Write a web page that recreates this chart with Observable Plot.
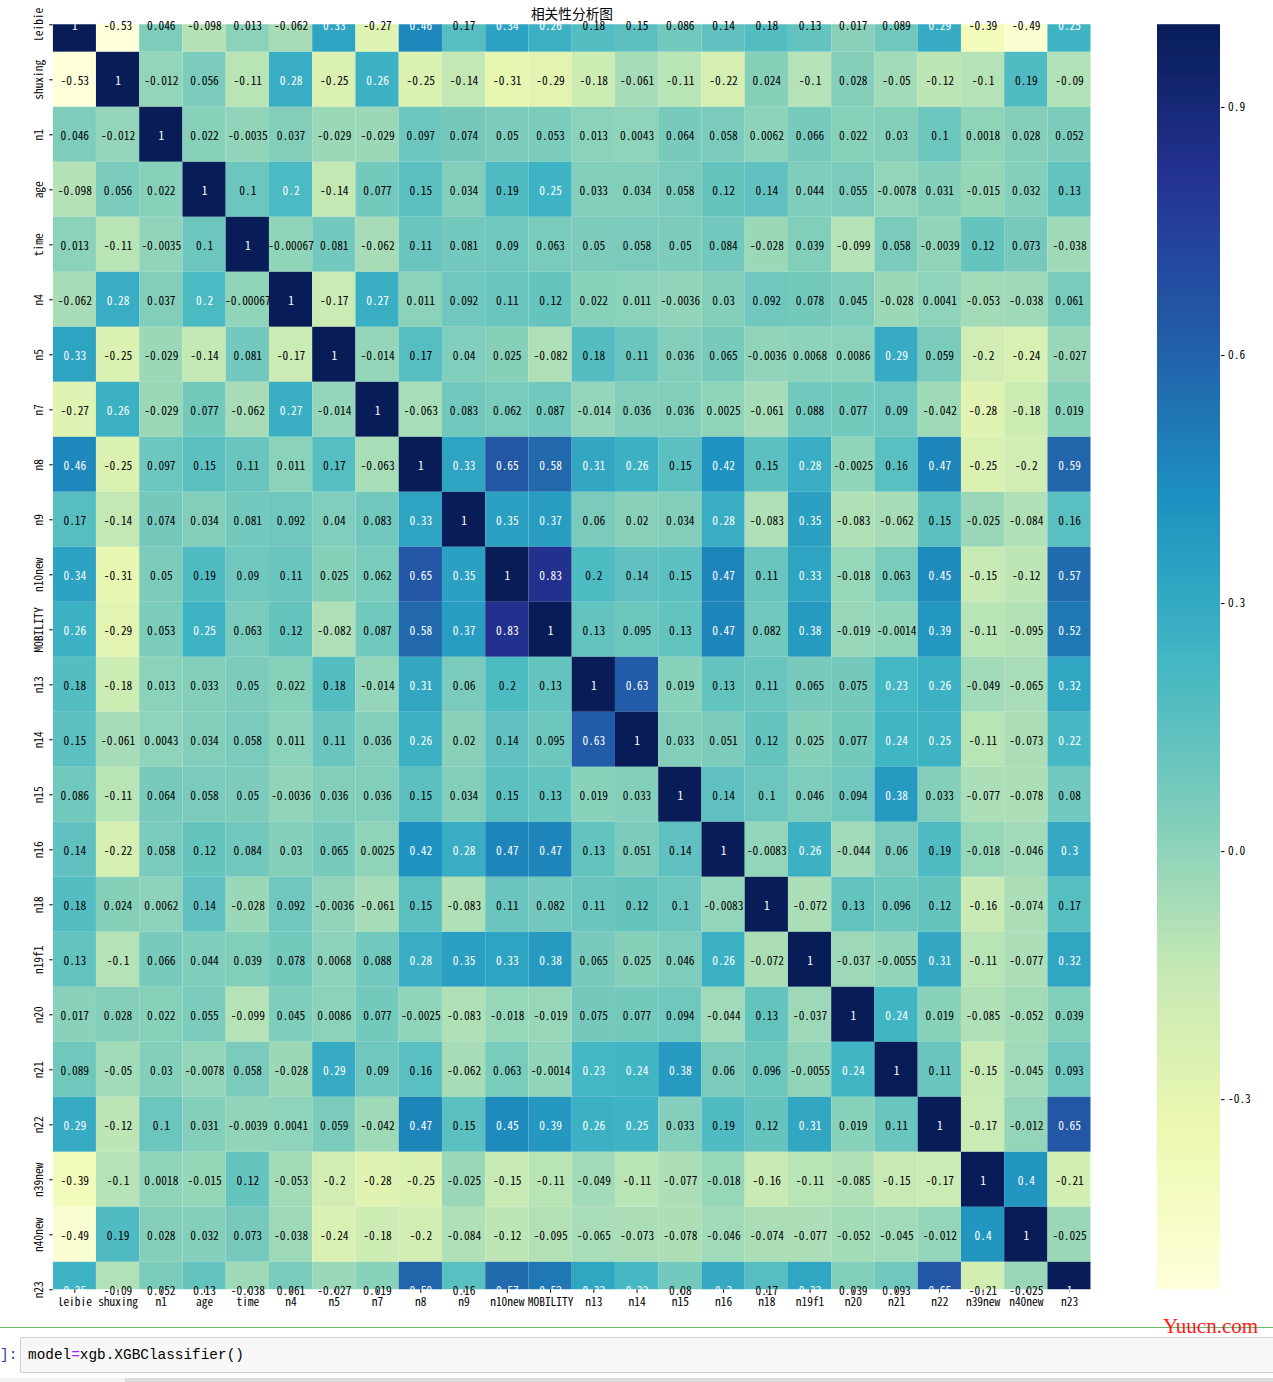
<!DOCTYPE html>
<html><head><meta charset="utf-8">
<script src="https://cdn.jsdelivr.net/npm/d3@7"></script>
<script src="https://cdn.jsdelivr.net/npm/@observablehq/plot@0.6"></script>
<style>
body{margin:0;background:#fff;}
#wrap{position:relative;width:1273px;height:1382px;overflow:hidden;background:#fff;}
#wrap svg{position:absolute;top:0;}
#title{position:absolute;left:0;width:1144px;top:7px;text-align:center;font-family:"Noto Sans CJK SC",sans-serif;font-size:13.7px;line-height:1;color:#000;}
#green{position:absolute;left:0;top:1327px;width:1273px;height:1px;background:#66bb6a;}
#prompt{position:absolute;left:0;top:1337px;height:36px;line-height:36px;font-family:"Liberation Mono",monospace;font-size:14.4px;color:#303F9F;}
#code{position:absolute;left:20px;top:1337px;width:1270px;height:34px;background:#f7f7f7;border:1px solid #cfcfcf;border-radius:2px;}
#codetext{position:absolute;left:28px;top:1337px;height:36px;line-height:36px;font-family:"Liberation Mono",monospace;font-size:14.4px;color:#000;}
#codetext .op{color:#aa22ff;}
#wm{position:absolute;left:1163px;top:1316px;font-family:"Liberation Serif",serif;font-size:21px;color:#ff1a1a;line-height:1;}
#bar1{position:absolute;left:0;top:1378px;width:125px;height:4px;background:#f2f2f2;}
#bar2{position:absolute;left:125px;top:1378px;width:1148px;height:4px;background:#dcdcdc;}
</style></head><body>
<div id="wrap">
<div id="title">相关性分析图</div>
<div id="green"></div>
<div id="prompt">]:</div>
<div id="code"></div>
<div id="codetext">model<span class="op">=</span>xgb.XGBClassifier()</div>
<div id="wm">Yuucn.com</div>
<div id="bar1"></div><div id="bar2"></div>
</div>
<script>
// ---- data ----
const names = ["leibie","shuxing","n1","age","time","n4","n5","n7","n8","n9","n10new","MOBILITY","n13","n14","n15","n16","n18","n19f1","n20","n21","n22","n39new","n40new","n23"];
const r_leibie  = [1,-0.53,0.046,-0.098,0.013,-0.062,0.33,-0.27,0.46,0.17,0.34,0.26,0.18,0.15,0.086,0.14,0.18,0.13,0.017,0.089,0.29,-0.39,-0.49,0.25];
const r_shuxing = [-0.53,1,-0.012,0.056,-0.11,0.28,-0.25,0.26,-0.25,-0.14,-0.31,-0.29,-0.18,-0.061,-0.11,-0.22,0.024,-0.1,0.028,-0.05,-0.12,-0.1,0.19,-0.09];
const r_n1      = [0.046,-0.012,1,0.022,-0.0035,0.037,-0.029,-0.029,0.097,0.074,0.05,0.053,0.013,0.0043,0.064,0.058,0.0062,0.066,0.022,0.03,0.1,0.0018,0.028,0.052];
const r_age     = [-0.098,0.056,0.022,1,0.1,0.203,-0.14,0.077,0.15,0.034,0.19,0.25,0.033,0.034,0.058,0.12,0.14,0.044,0.055,-0.0078,0.031,-0.015,0.032,0.13];
const r_time    = [0.013,-0.11,-0.0035,0.1,1,-0.00067,0.081,-0.062,0.11,0.081,0.09,0.063,0.05,0.058,0.05,0.084,-0.028,0.039,-0.099,0.058,-0.0039,0.12,0.073,-0.038];
const r_n4      = [-0.062,0.28,0.037,0.203,-0.00067,1,-0.17,0.27,0.011,0.092,0.11,0.12,0.022,0.011,-0.0036,0.03,0.092,0.078,0.045,-0.028,0.0041,-0.053,-0.038,0.061];
const r_n5      = [0.33,-0.25,-0.029,-0.14,0.081,-0.17,1,-0.014,0.17,0.04,0.025,-0.082,0.18,0.11,0.036,0.065,-0.0036,0.0068,0.0086,0.29,0.059,-0.2,-0.24,-0.027];
const r_n7      = [-0.27,0.26,-0.029,0.077,-0.062,0.27,-0.014,1,-0.063,0.083,0.062,0.087,-0.014,0.036,0.036,0.0025,-0.061,0.088,0.077,0.09,-0.042,-0.28,-0.18,0.019];
const r_n8      = [0.46,-0.25,0.097,0.15,0.11,0.011,0.17,-0.063,1,0.33,0.65,0.58,0.31,0.26,0.15,0.42,0.15,0.28,-0.0025,0.16,0.47,-0.25,-0.2,0.59];
const r_n9      = [0.17,-0.14,0.074,0.034,0.081,0.092,0.04,0.083,0.33,1,0.35,0.37,0.06,0.02,0.034,0.28,-0.083,0.35,-0.083,-0.062,0.15,-0.025,-0.084,0.16];
const r_n10new  = [0.34,-0.31,0.05,0.19,0.09,0.11,0.025,0.062,0.65,0.35,1,0.83,0.197,0.14,0.15,0.47,0.11,0.33,-0.018,0.063,0.45,-0.15,-0.12,0.57];
const r_mob     = [0.26,-0.29,0.053,0.25,0.063,0.12,-0.082,0.087,0.58,0.37,0.83,1,0.13,0.095,0.13,0.47,0.082,0.38,-0.019,-0.0014,0.39,-0.11,-0.095,0.52];
const r_n13     = [0.18,-0.18,0.013,0.033,0.05,0.022,0.18,-0.014,0.31,0.06,0.197,0.13,1,0.63,0.019,0.13,0.11,0.065,0.075,0.23,0.26,-0.049,-0.065,0.32];
const r_n14     = [0.15,-0.061,0.0043,0.034,0.058,0.011,0.11,0.036,0.26,0.02,0.14,0.095,0.63,1,0.033,0.051,0.12,0.025,0.077,0.24,0.25,-0.11,-0.073,0.22];
const r_n15     = [0.086,-0.11,0.064,0.058,0.05,-0.0036,0.036,0.036,0.15,0.034,0.15,0.13,0.019,0.033,1,0.14,0.1,0.046,0.094,0.38,0.033,-0.077,-0.078,0.08];
const r_n16     = [0.14,-0.22,0.058,0.12,0.084,0.03,0.065,0.0025,0.42,0.28,0.47,0.47,0.13,0.051,0.14,1,-0.0083,0.26,-0.044,0.06,0.19,-0.018,-0.046,0.3];
const r_n18     = [0.18,0.024,0.0062,0.14,-0.028,0.092,-0.0036,-0.061,0.15,-0.083,0.11,0.082,0.11,0.12,0.1,-0.0083,1,-0.072,0.13,0.096,0.12,-0.16,-0.074,0.17];
const r_n19f1   = [0.13,-0.1,0.066,0.044,0.039,0.078,0.0068,0.088,0.28,0.35,0.33,0.38,0.065,0.025,0.046,0.26,-0.072,1,-0.037,-0.0055,0.31,-0.11,-0.077,0.32];
const r_n20     = [0.017,0.028,0.022,0.055,-0.099,0.045,0.0086,0.077,-0.0025,-0.083,-0.018,-0.019,0.075,0.077,0.094,-0.044,0.13,-0.037,1,0.24,0.019,-0.085,-0.052,0.039];
const r_n21     = [0.089,-0.05,0.03,-0.0078,0.058,-0.028,0.29,0.09,0.16,-0.062,0.063,-0.0014,0.23,0.24,0.38,0.06,0.096,-0.0055,0.24,1,0.11,-0.15,-0.045,0.093];
const r_n22     = [0.29,-0.12,0.1,0.031,-0.0039,0.0041,0.059,-0.042,0.47,0.15,0.45,0.39,0.26,0.25,0.033,0.19,0.12,0.31,0.019,0.11,1,-0.17,-0.012,0.65];
const r_n39new  = [-0.39,-0.1,0.0018,-0.015,0.12,-0.053,-0.2,-0.28,-0.25,-0.025,-0.15,-0.11,-0.049,-0.11,-0.077,-0.018,-0.16,-0.11,-0.085,-0.15,-0.17,1,0.4,-0.21];
const r_n40new  = [-0.49,0.19,0.028,0.032,0.073,-0.038,-0.24,-0.18,-0.2,-0.084,-0.12,-0.095,-0.065,-0.073,-0.078,-0.046,-0.074,-0.077,-0.052,-0.045,-0.012,0.4,1,-0.025];
const r_n23     = [0.25,-0.09,0.052,0.13,-0.038,0.061,-0.027,0.019,0.59,0.16,0.57,0.52,0.32,0.22,0.08,0.3,0.17,0.32,0.039,0.093,0.65,-0.21,-0.025,1];
const cbTicks = [-0.3, 0.0, 0.3, 0.6, 0.9];

const rows = [r_leibie,r_shuxing,r_n1,r_age,r_time,r_n4,r_n5,r_n7,r_n8,r_n9,r_n10new,r_mob,r_n13,r_n14,r_n15,r_n16,r_n18,r_n19f1,r_n20,r_n21,r_n22,r_n39new,r_n40new,r_n23];
const data = [];
names.forEach((rn,i)=>names.forEach((cn,j)=>data.push({row:rn,col:cn,value:rows[i][j]})));

// ---- colormap (matplotlib YlGnBu, linear segments) ----
const ylgnbu = ["#ffffd9","#edf8b1","#c7e9b4","#7fcdbb","#41b6c4","#1d91c0","#225ea8","#253494","#081d58"];
const cmapScale = d3.scaleLinear().domain(d3.range(9).map(i=>i/8)).range(ylgnbu).interpolate(d3.interpolateRgb).clamp(true);
const cmap = t => cmapScale(t);
const VMIN = d3.min(data, d=>d.value), VMAX = d3.max(data, d=>d.value);
function lum(c){
  const {r,g,b} = d3.rgb(c);
  const f = v => { v/=255; return v<=0.03928 ? v/12.92 : Math.pow((v+0.055)/1.055,2.4); };
  return 0.2126*f(r)+0.7152*f(g)+0.0722*f(b);
}
const colorOf = v => cmap((v-VMIN)/(VMAX-VMIN));
const dark = data.filter(d=>lum(colorOf(d.value)) <= 0.408);
const light = data.filter(d=>lum(colorOf(d.value)) > 0.408);
const f2g = d3.format(".2~g");
const fmt = v => f2g(v).replace("\u2212","-");

// ---- font detection ----
const ctx = document.createElement("canvas").getContext("2d");
ctx.font = "40px 'Noto Sans Mono CJK SC', monospace";
const wMono = ctx.measureText("0123456789").width;
const hasCJKMono = Math.abs(wMono - 200) < 3;
const FONT = hasCJKMono ? "'Noto Sans Mono CJK SC', monospace" : "'DejaVu Sans Mono', monospace";
const FS = hasCJKMono ? 11.4 : 9.5;

const T = 24.3, B = 1289.3, L = 52.7, R = 1090.7, H = 1330;
const rowH = (B - T) / 23;

const main = Plot.plot({
  width: 1100, height: H,
  marginLeft: L, marginRight: 1100 - R, marginTop: T, marginBottom: H - B,
  style: {fontFamily: FONT, fontSize: FS + "px", color: "#000", background: "transparent", overflow: "visible"},
  x: {type: "band", domain: names, padding: 0, round: false, label: null, tickSize: 3.5, tickPadding: 5},
  y: {type: "band", domain: names, range: [T - rowH/2, B + rowH/2], padding: 0, round: false, label: null, tickSize: 3.5, tickFormat: () => ""},
  color: {type: "linear", domain: [VMIN, VMAX], interpolate: cmap},
  marks: [
    Plot.cell(data, {x: "col", y: "row", fill: "value", clip: true}),
    Plot.text(dark, {x: "col", y: "row", text: d => fmt(d.value), fill: "white", dy: 1.5}),
    Plot.text(light, {x: "col", y: "row", text: d => fmt(d.value), fill: "black", dy: 1.5}),
    Plot.text(names, {y: d => d, text: d => d, frameAnchor: "left", dx: -13.7, rotate: -90, textAnchor: "middle", lineAnchor: "middle", fill: "black"})
  ]
});
main.style.left = "0px";
document.getElementById("wrap").appendChild(main);

const STEP = 0.0025;
const ramp = d3.range(VMIN, VMAX, STEP);
const cb = Plot.plot({
  width: 116, height: H,
  marginLeft: 0, marginRight: 116 - 63, marginTop: T, marginBottom: H - B,
  style: {fontFamily: FONT, fontSize: FS + "px", color: "#000", background: "transparent", overflow: "visible"},
  x: {domain: [0, 1], axis: null},
  y: {domain: [VMIN, VMAX], axis: "right", ticks: cbTicks, tickSize: 3.5, tickPadding: 4, tickFormat: d => d.toFixed(1), label: null},
  color: {type: "linear", domain: [VMIN, VMAX], interpolate: cmap},
  marks: [
    Plot.rect(ramp, {x1: 0, x2: 1, y1: d => d, y2: d => Math.min(VMAX, d + STEP * 1.8), fill: d => d + STEP / 2})
  ]
});
cb.style.left = "1157px";
document.getElementById("wrap").appendChild(cb);
</script>
</body></html>
